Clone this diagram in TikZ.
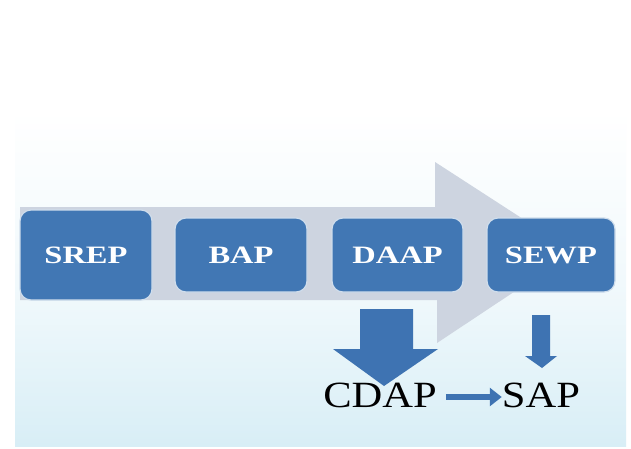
\documentclass[tikz,border=0pt]{standalone}
\usepackage{fontspec}
\setmainfont{Liberation Serif}
\usetikzlibrary{arrows.meta,shapes.arrows}
\definecolor{boxblue}{HTML}{4177B4}
\definecolor{arrblue}{HTML}{3E73B2}
\definecolor{biggrey}{HTML}{CDD4E0}
\definecolor{bgbot}{HTML}{D8EEF6}
\tikzset{
  stage/.style={draw=white!75!boxblue, line width=1.2pt, fill=boxblue, rounded corners=11pt,
    inner sep=0pt},
  stagetext/.style={text=white, font=\fontsize{25}{28}\selectfont\bfseries, inner sep=0pt, xscale=1.3},
  outlabel/.style={text=black, font=\fontsize{37}{40}\selectfont, inner sep=0pt, anchor=base, xscale=1.15},
}
\begin{document}
\begin{tikzpicture}[x=1pt,y=-1pt]
\useasboundingbox (0,0) rectangle (631,448);
\fill[white] (0,0) rectangle (631,448);
% background panel
\fill[white] (15,8) rectangle (626,110);
\shade[top color=white, bottom color=white!60!bgbot] (15,110) rectangle (626,300);
\shade[top color=white!60!bgbot, bottom color=bgbot] (15,300) rectangle (626,446);
% big grey process arrow
\fill[biggrey] (20,207) -- (435,207) -- (435,162) -- (574,252) -- (437,343) -- (437,300) -- (20,300) -- cycle;
% stages
\node[stage, minimum width=132pt, minimum height=90pt] (srep) at (86,255) {};
\node[stage, minimum width=132pt, minimum height=74pt] (bap) at (241,255) {};
\node[stage, minimum width=131pt, minimum height=74pt] (daap) at (397.5,255) {};
\node[stage, minimum width=128pt, minimum height=74pt] (sewp) at (551,255) {};
\node[stagetext] (srept) at (srep) {SREP};
\node[stagetext] (bapt) at (bap) {BAP};
\node[stagetext] (daapt) at (daap) {DAAP};
\node[stagetext] (sewpt) at (sewp) {SEWP};
% outputs
\node[outlabel] (cdap) at (380,407) {CDAP};
\node[outlabel] (sap) at (541,407) {SAP};
% down arrows
\fill[arrblue] (360,309) -- (413,309) -- (413,349) -- (438,349) -- (384,386) -- (333,349) -- (360,349) -- cycle;
\fill[arrblue] (532,315) -- (550,315) -- (550,356) -- (557,356) -- (542,368) -- (525,356) -- (532,356) -- cycle;
% horizontal connector
\draw[arrblue, line width=6.5pt, -{Triangle[length=12pt,width=18pt]}] ([xshift=9pt,yshift=10pt]cdap.base east) -- ([yshift=10pt]sap.base west);
\end{tikzpicture}
\end{document}
